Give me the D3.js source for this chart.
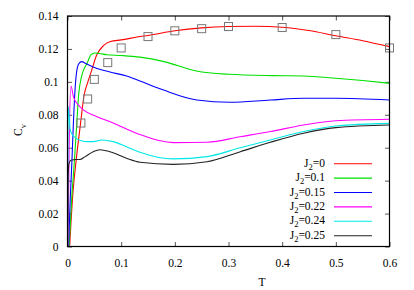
<html>
<meta charset="utf-8" />
<head>
<title>Cv vs T</title>
<style>
body { margin: 0; background: #fff; }
svg text {
  font-family: "Liberation Serif", "Times New Roman", "DejaVu Serif", serif;
  font-size: 11.5px;
  fill: black;
}
</style>
<script src="https://d3js.org/d3.v7.min.js" charset="utf-8"></script>
</head>
<body>
<svg class="chart"></svg>

<script>

/*******************************
 * Data   *
 *******************************/
var series_names = ["0", "0.1", "0.15", "0.22", "0.24", "0.25"];
var series_colors = ["#ff0000", "#00e000", "#0000ff", "#ff00ff", "#00e8e8", "#222222"];

var T_j0   = [0.004, 0.01, 0.016, 0.024, 0.031, 0.038, 0.045, 0.054, 0.067, 0.08, 0.1, 0.135, 0.15, 0.2, 0.25, 0.3, 0.35, 0.4, 0.45, 0.5, 0.55, 0.6];
var Cv_j0  = [0, 0.032, 0.052, 0.074, 0.092, 0.1, 0.107, 0.116, 0.122, 0.1245, 0.1255, 0.1275, 0.1282, 0.131, 0.1328, 0.1336, 0.1338, 0.1332, 0.1312, 0.128, 0.125, 0.1214];

var T_j1   = [0.003, 0.008, 0.012, 0.016, 0.021, 0.026, 0.031, 0.036, 0.044, 0.051, 0.06, 0.073, 0.1, 0.135, 0.18, 0.24, 0.3, 0.38, 0.44, 0.5, 0.55, 0.6];
var Cv_j1  = [0, 0.03, 0.048, 0.068, 0.093, 0.103, 0.108, 0.111, 0.1165, 0.1175, 0.1172, 0.1165, 0.116, 0.115, 0.1123, 0.1066, 0.1046, 0.1038, 0.1036, 0.1022, 0.1008, 0.0991];

var T_j15  = [0.002, 0.005, 0.008, 0.011, 0.014, 0.017, 0.021, 0.0265, 0.033, 0.048, 0.079, 0.11, 0.135, 0.179, 0.241, 0.303, 0.378, 0.44, 0.5, 0.6];
var Cv_j15 = [0, 0.028, 0.05, 0.075, 0.095, 0.106, 0.111, 0.1123, 0.1113, 0.109, 0.106, 0.1036, 0.1005, 0.095, 0.089, 0.0876, 0.089, 0.09, 0.09, 0.089];

var T_j22  = [0.001, 0.003, 0.0065, 0.011, 0.02, 0.0295, 0.054, 0.085, 0.122, 0.135, 0.197, 0.26, 0.322, 0.378, 0.44, 0.5, 0.6];
var Cv_j22 = [0, 0.06, 0.0975, 0.091, 0.086, 0.083, 0.079, 0.075, 0.0697, 0.068, 0.0631, 0.0633, 0.0667, 0.0698, 0.0738, 0.0764, 0.0773];

var T_j24  = [0.0003, 0.0012, 0.003, 0.0047, 0.0078, 0.015, 0.023, 0.035, 0.048, 0.064, 0.085, 0.11, 0.135, 0.197, 0.26, 0.322, 0.378, 0.44, 0.5, 0.6];
var Cv_j24 = [0, 0.085, 0.08, 0.0715, 0.0685, 0.066, 0.0645, 0.0637, 0.0637, 0.0647, 0.0637, 0.0606, 0.0573, 0.0532, 0.0546, 0.06, 0.0647, 0.0698, 0.0732, 0.0748];

var T_j25  = [0.0002, 0.001, 0.0025, 0.005, 0.0078, 0.015, 0.023, 0.0327, 0.048, 0.0606, 0.079, 0.11, 0.135, 0.197, 0.26, 0.322, 0.378, 0.44, 0.5, 0.6];
var Cv_j25 = [0, 0.04, 0.05, 0.052, 0.0525, 0.0528, 0.0528, 0.0546, 0.0576, 0.0588, 0.0576, 0.0536, 0.0512, 0.0499, 0.0515, 0.0576, 0.0633, 0.0688, 0.0722, 0.0738];

// square markers
var T_sq  = [0.025, 0.0375, 0.05, 0.075, 0.1, 0.15, 0.2, 0.25, 0.3, 0.4, 0.5, 0.6];
var Cv_sq = [0.075, 0.0896, 0.1015, 0.1117, 0.1206, 0.1275, 0.131, 0.1323, 0.1336, 0.133, 0.1287, 0.1206];

var x_ticks = [0, 0.1, 0.2, 0.3, 0.4, 0.5, 0.6];
var y_ticks = [0, 0.02, 0.04, 0.06, 0.08, 0.1, 0.12, 0.14];

var all_T  = [T_j0, T_j1, T_j15, T_j22, T_j24, T_j25];
var all_Cv = [Cv_j0, Cv_j1, Cv_j15, Cv_j22, Cv_j24, Cv_j25];

/*******************************
 * Layout                      *
 *******************************/
var width = 414;
var height = 290;
var left = 67.5, right = 389.5, top_y = 16, bottom = 246.5;

var svg = d3.select(".chart")
    .attr("width", width)
    .attr("height", height);

var x_position = d3.scaleLinear().domain([0, 0.6]).range([left, right]);
var y_position = d3.scaleLinear().domain([0, 0.14]).range([bottom, top_y]);

// axes: ticks point inward, mirrored on top and right
var tick_len = 4.5;
var fmt = function(d){ return String(+d.toFixed(2)); };

function strip(g){
  g.select(".domain").remove();
  g.attr("font-family", null).attr("font-size", null);
}

svg.append("g")
    .attr("transform", "translate(0," + bottom + ")")
    .call(d3.axisBottom(x_position).tickValues(x_ticks).tickFormat(fmt)
        .tickSizeInner(-tick_len).tickSizeOuter(0).tickPadding(12))
    .call(strip);

svg.append("g")
    .attr("transform", "translate(" + left + ",0)")
    .call(d3.axisLeft(y_position).tickValues(y_ticks).tickFormat(fmt)
        .tickSizeInner(-tick_len).tickSizeOuter(0).tickPadding(9))
    .call(strip);

svg.append("g")
    .attr("transform", "translate(0," + top_y + ")")
    .call(d3.axisTop(x_position).tickValues(x_ticks).tickFormat("")
        .tickSizeInner(-tick_len).tickSizeOuter(0))
    .call(strip);

svg.append("g")
    .attr("transform", "translate(" + right + ",0)")
    .call(d3.axisRight(y_position).tickValues(y_ticks).tickFormat("")
        .tickSizeInner(-tick_len).tickSizeOuter(0))
    .call(strip);

svg.selectAll(".tick line").attr("stroke", "#555");
svg.selectAll(".tick text").attr("fill", "black");

svg.append("clipPath").attr("id", "clip")
  .append("rect")
    .attr("x", left).attr("y", top_y)
    .attr("width", right - left).attr("height", bottom - top_y);

/*******************************
 * Curves                      *
 *******************************/
var line = d3.line()
    .x(function(d){ return x_position(d[0]); })
    .y(function(d){ return y_position(d[1]); })
    .curve(d3.curveMonotoneX);

var curves = svg.append("g").attr("clip-path", "url(#clip)");

all_T.forEach(function(ts, k){
  var pts = ts.map(function(t, i){ return [t, all_Cv[k][i]]; });
  curves.append("path")
      .datum(pts)
      .attr("d", line)
      .attr("fill", "none")
      .attr("stroke", series_colors[k])
      .attr("stroke-width", 1.1);
});

// open squares
var sq = 8;
svg.append("g").selectAll("rect")
    .data(T_sq.map(function(t, i){ return [t, Cv_sq[i]]; }))
    .enter()
    .append("rect")
    .attr("x", function(d){ return x_position(d[0]) - sq / 2; })
    .attr("y", function(d){ return y_position(d[1]) - sq / 2; })
    .attr("width", sq)
    .attr("height", sq)
    .attr("fill", "none")
    .attr("stroke", "#777")
    .attr("stroke-width", 1);

// frame
svg.append("rect")
    .attr("x", left).attr("y", top_y)
    .attr("width", right - left).attr("height", bottom - top_y)
    .attr("fill", "none")
    .attr("stroke", "black")
    .attr("stroke-width", 1.2);

/*******************************
 * Legend                      *
 *******************************/
var legend = svg.append("g").selectAll("g")
    .data(series_names)
    .enter()
    .append("g")
    .attr("transform", function(d, i){ return "translate(0," + (163.7 + i * 14.4) + ")"; });

legend.append("line")
    .attr("x1", 334).attr("x2", 372)
    .attr("y1", 0).attr("y2", 0)
    .attr("stroke", function(d, i){ return series_colors[i]; })
    .attr("stroke-width", 1.1);

var ltext = legend.append("text")
    .attr("x", 325)
    .attr("y", 3)
    .style("text-anchor", "end");
ltext.append("tspan").text("J");
ltext.append("tspan").attr("dy", 3).style("font-size", "8.5px").text("2");
ltext.append("tspan").attr("dy", -3).text(function(d){ return "=" + d; });

/*******************************
 * Axis titles                 *
 *******************************/
svg.append("text")
    .attr("x", 262)
    .attr("y", 286)
    .style("text-anchor", "middle")
    .text("T");

var ylab = svg.append("text")
    .attr("transform", "translate(22,130) rotate(-90)")
    .style("text-anchor", "middle");
ylab.append("tspan").text("C");
ylab.append("tspan").attr("dy", 3.5).style("font-size", "8.5px").text("v");

</script>
</body>
</html>
